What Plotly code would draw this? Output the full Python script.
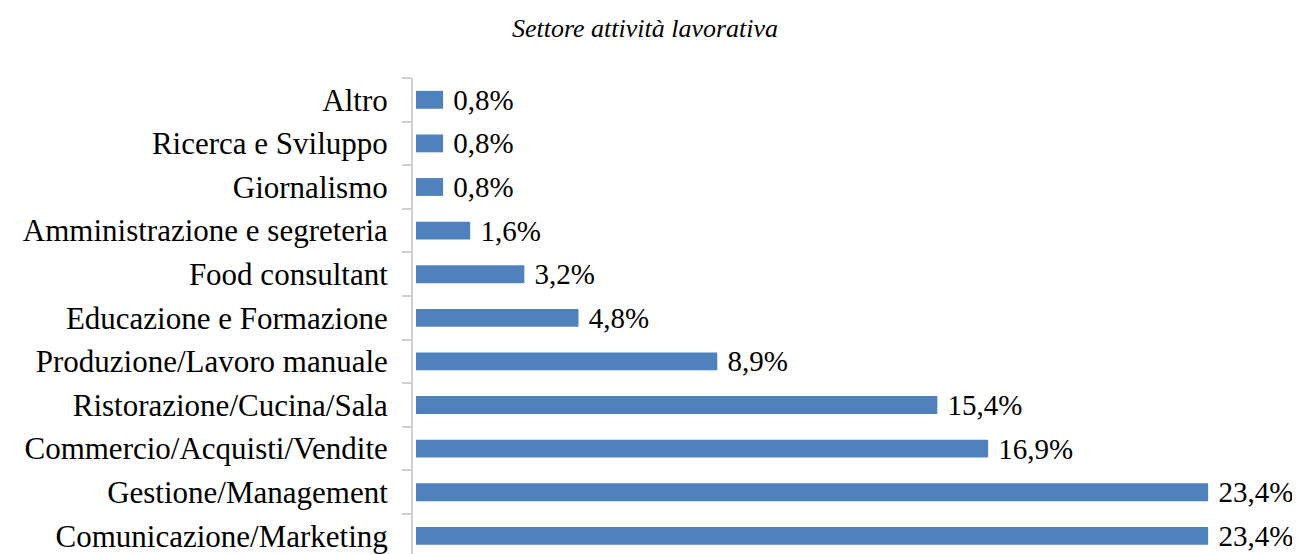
import plotly.graph_objects as go

categories = [
    "Comunicazione/Marketing",
    "Gestione/Management",
    "Commercio/Acquisti/Vendite",
    "Ristorazione/Cucina/Sala",
    "Produzione/Lavoro manuale",
    "Educazione e Formazione",
    "Food consultant",
    "Amministrazione e segreteria",
    "Giornalismo",
    "Ricerca e Sviluppo",
    "Altro",
]
values = [23.4, 23.4, 16.9, 15.4, 8.9, 4.8, 3.2, 1.6, 0.8, 0.8, 0.8]

FONT = "Liberation Serif"

fig = go.Figure(
    go.Bar(
        x=values,
        y=categories,
        orientation="h",
        width=0.41,
        marker=dict(color="#4F81BD", line=dict(width=0)),
        texttemplate=" %{x:.1f}%",
        textposition="outside",
        constraintext="none",
        textfont=dict(family=FONT, size=29, color="#000000"),
        cliponaxis=False,
    )
)

fig.update_layout(
    width=1300,
    height=554,
    paper_bgcolor="white",
    plot_bgcolor="white",
    separators=",.",
    margin=dict(l=405, r=0, t=70, b=0, autoexpand=False),
    showlegend=False,
    title=dict(
        text="<i>Settore attività lavorativa</i>",
        x=0.49,
        xanchor="center",
        y=1 - 20 / 554,
        yanchor="middle",
        font=dict(family=FONT, size=26, color="#000000"),
    ),
    xaxis=dict(
        range=[-0.089, 26.35],
        showgrid=False,
        zeroline=False,
        showticklabels=False,
        showline=False,
        ticks="",
        automargin=False,
    ),
    yaxis=dict(
        type="category",
        range=[-0.6, 10.5],
        showgrid=False,
        zeroline=False,
        showline=True,
        linecolor="#D0D0D0",
        linewidth=2,
        ticks="outside",
        tickson="boundaries",
        ticklen=9,
        tickwidth=2,
        tickcolor="#D0D0D0",
        ticklabelstandoff=17,
        automargin=False,
        tickfont=dict(family=FONT, size=31, color="#000000"),
    ),
)

fig.write_html("out.html")
